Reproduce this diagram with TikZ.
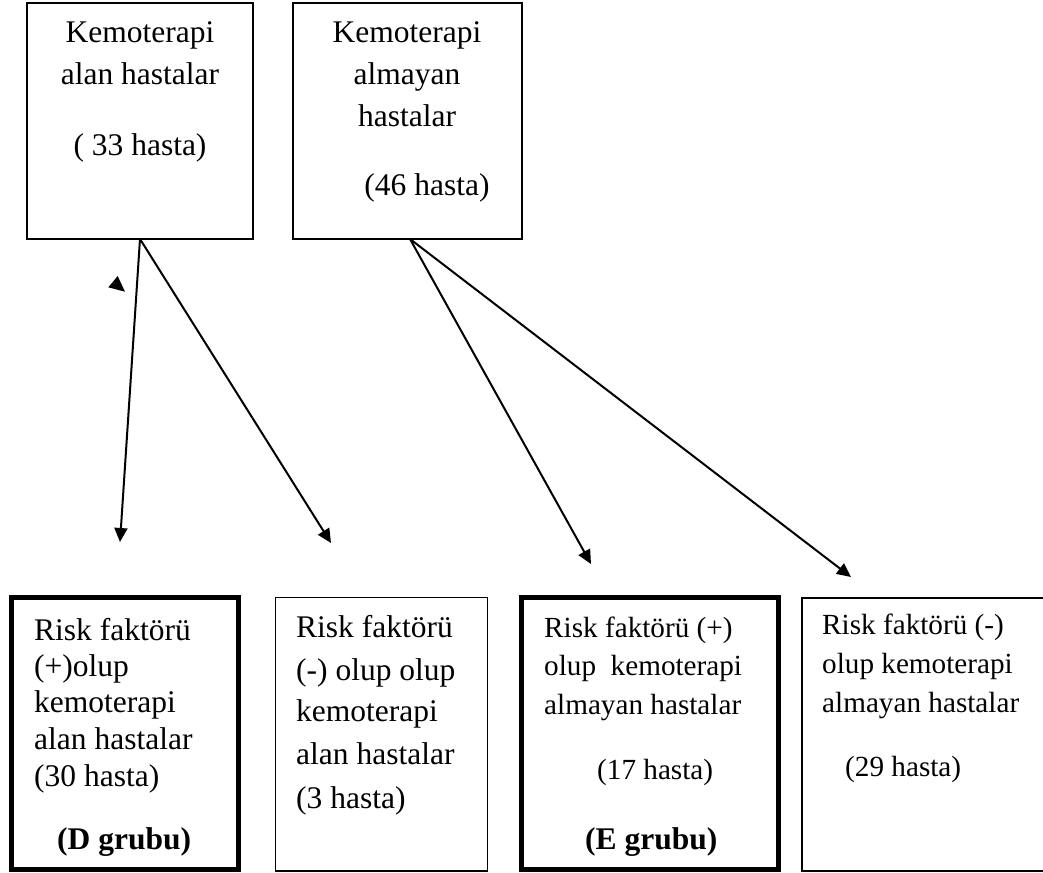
\documentclass[tikz,border=0pt]{standalone}
\usepackage{fontspec}
\setmainfont{Liberation Serif}
\usetikzlibrary{arrows.meta}

\begin{document}
\begin{tikzpicture}[x=1pt,y=-1pt,
  box/.style={draw=black, line width=1.4pt, inner sep=0pt, outer sep=0pt},
  thickbox/.style={box, line width=5pt},
  big/.style={inner sep=0pt, font=\fontsize{31.5}{38}\selectfont},
  small/.style={inner sep=0pt, font=\fontsize{29.2}{35}\selectfont},
  lft/.style={anchor=base west},
  ctr/.style={anchor=base},
  conn/.style={line width=2pt, -{Triangle[length=14pt,width=13pt]}}
]
\clip (0,0) rectangle (1043,872);
\fill[white] (0,0) rectangle (1043,872);

% upper boxes
\node[box, minimum width=226pt, minimum height=236pt] (top1) at (140,121) {};
\node[box, minimum width=229pt, minimum height=236pt] (top2) at (407.5,121) {};

\node[big, ctr] (t1a) at (140,43)  {Kemoterapi};
\node[big, ctr] (t1b) at (140,85)  {alan hastalar};
\node[big, ctr] (t1c) at (140,155) {( 33 hasta)};

\node[big, ctr] (t2a) at (407,43)  {Kemoterapi};
\node[big, ctr] (t2b) at (407,85)  {almayan};
\node[big, ctr] (t2c) at (407,127) {hastalar};
\node[big, ctr] (t2d) at (427,195) {(46 hasta)};

% lower boxes
\node[thickbox, minimum width=227pt, minimum height=272pt] (grpD) at (124.5,733.5) {};
\node[box, minimum width=212pt, minimum height=273.5pt] (neg1) at (381.5,734.25) {};
\node[thickbox, minimum width=257pt, minimum height=272pt] (grpE) at (650,733.5) {};
\node[box, minimum width=258pt, minimum height=273pt] (neg2) at (931,734.5) {};

\node[big, lft] (da) at (34,640) {Risk faktörü};
\node[big, lft] (db) at (34,676) {(+)olup};
\node[big, lft] (dc) at (34,712) {kemoterapi};
\node[big, lft] (dd) at (34,749) {alan hastalar};
\node[big, lft] (de) at (34,786) {(30 hasta)};
\node[big, lft, font=\fontsize{31.5}{38}\selectfont\bfseries] (df) at (57,849) {(D grubu)};

\node[big, lft] (na) at (296,637) {Risk faktörü};
\node[big, lft] (nb) at (296,680) {(-) olup olup};
\node[big, lft] (nc) at (296,721) {kemoterapi};
\node[big, lft] (nd) at (296,764) {alan hastalar};
\node[big, lft] (ne) at (296,808) {(3 hasta)};

\node[small, lft] (ea) at (544,637) {Risk faktörü (+)};
\node[small, lft] (eb) at (544,675) {olup~~kemoterapi};
\node[small, lft] (ec) at (544,714) {almayan hastalar};
\node[small, lft] (ed) at (597,779) {(17 hasta)};
\node[big, lft, font=\fontsize{31.5}{38}\selectfont\bfseries] (ee) at (585,849) {(E grubu)};

\node[small, lft] (ma) at (822,634) {Risk faktörü (-)};
\node[small, lft] (mb) at (822,673) {olup kemoterapi};
\node[small, lft] (mc) at (822,712) {almayan hastalar};
\node[small, lft] (md) at (845,776) {(29 hasta)};

% arrow end points above the lower boxes
\coordinate (s1) at (140,239);
\coordinate (s2) at (410,239);
\coordinate (e1) at (120,542);
\coordinate (e2) at (331,543);
\coordinate (e3) at (591,564);
\coordinate (e4) at (851,577);

\draw[conn] (s1) -- (e1);
\draw[conn] (s1) -- (e2);
\draw[conn] (s2) -- (e3);
\draw[conn] (s2) -- (e4);

% loose arrowhead left of the first arrow
\fill[black] (117.7,276) -- (108.3,287.3) -- (125,291.7) -- cycle;
\end{tikzpicture}
\end{document}
